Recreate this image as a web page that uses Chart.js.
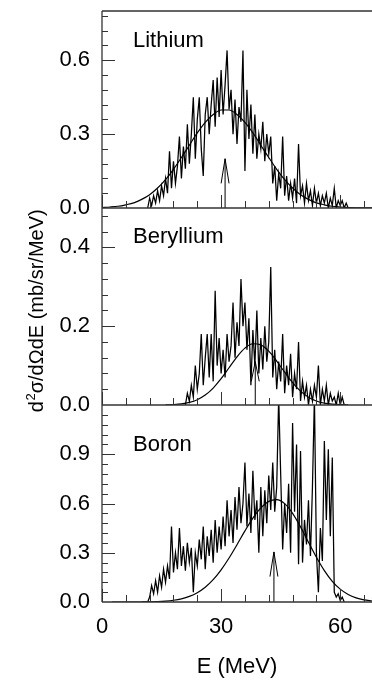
<!DOCTYPE html>
<html>
<head>
<meta charset="utf-8">
<style>
html,body{margin:0;padding:0;background:#fff;}
#wrap{width:372px;height:681px;position:relative;overflow:hidden;}
canvas{display:block;}
</style>
<script src="https://cdn.jsdelivr.net/npm/chart.js@4.4.1/dist/chart.umd.min.js"></script>
</head>
<body>
<div id="wrap"><canvas id="c" width="372" height="681"></canvas></div>
<script>
const FONT = "'Liberation Sans', Arial, Helvetica, sans-serif";

// ---- data ----
const panelNames = ['Lithium', 'Beryllium', 'Boron'];
const energyStep = 0.5;   // MeV per histogram bin

const lithiumStartE = 11.5;
const lithiumCounts = [
  0.00,0.04,0.01,0.05,0.02,0.07,0.03,0.09,0.05,0.12,
  0.06,0.23,0.08,0.19,0.10,0.17,0.29,0.12,0.25,0.16,
  0.34,0.18,0.30,0.45,0.20,0.36,0.45,0.24,0.13,0.38,
  0.45,0.30,0.42,0.52,0.33,0.53,0.37,0.56,0.38,0.50,
  0.64,0.40,0.48,0.30,0.44,0.26,0.41,0.35,0.64,0.15,
  0.48,0.28,0.42,0.22,0.38,0.20,0.30,0.24,0.35,0.19,
  0.30,0.22,0.29,0.10,0.17,0.03,0.14,0.08,0.29,0.05,
  0.13,0.03,0.10,0.04,0.12,0.02,0.26,0.05,0.09,0.02,
  0.10,0.03,0.07,0.01,0.08,0.02,0.06,0.01,0.05,0.02,
  0.06,0.00,0.04,0.01,0.08,0.00,0.03,0.01,0.03,0.00,
  0.02,0.00
];

const berylliumStartE = 21.0;
const berylliumCounts = [
  0.00,0.03,0.01,0.05,0.02,0.10,0.04,0.08,0.18,0.05,
  0.12,0.18,0.07,0.18,0.06,0.29,0.10,0.17,0.08,0.14,
  0.07,0.18,0.11,0.15,0.26,0.12,0.21,0.15,0.32,0.20,
  0.26,0.14,0.22,0.05,0.19,0.10,0.24,0.08,0.17,0.09,
  0.20,0.11,0.16,0.35,0.07,0.14,0.04,0.11,0.06,0.18,
  0.03,0.10,0.05,0.13,0.02,0.08,0.04,0.16,0.01,0.06,
  0.02,0.05,0.00,0.04,0.01,0.05,0.02,0.10,0.00,0.04,
  0.01,0.05,0.00,0.03,0.01,0.02,0.00,0.03,0.00,0.02,
  0.00
];

const boronStartE = 2.5;
const boronCounts = [
  0,0,0,0,0,0,0,0,0,0,0,0,0,0,0,0,0,0,0,
  0.03,0.10,0.05,0.13,0.06,0.16,0.09,0.20,0.12,0.22,
  0.14,0.46,0.18,0.30,0.20,0.45,0.22,0.34,0.19,0.36,
  0.24,0.33,0.06,0.30,0.22,0.38,0.26,0.46,0.20,0.40,
  0.28,0.44,0.24,0.50,0.30,0.46,0.32,0.52,0.34,0.62,
  0.40,0.56,0.36,0.64,0.44,0.70,0.48,0.60,0.85,0.46,
  0.66,0.42,0.80,0.50,0.62,0.30,0.70,0.40,0.68,0.48,
  0.77,0.56,0.85,0.55,0.70,1.25,0.78,0.32,0.60,0.42,
  0.72,0.30,1.09,0.55,0.96,0.23,0.92,0.24,0.50,0.35,
  0.62,0.28,0.70,1.25,0.30,0.06,0.45,0.25,0.98,0.50,
  0.93,0.40,0.88,0.06,0.03,0.05,0.01,0.03,0.00
];

const fitStep = 2;  // MeV between read-off points of the smooth curves
const lithiumFitStartE = 0;
const lithiumFit = [0.002,0.004,0.007,0.013,0.021,0.035,0.054,0.081,0.115,0.157,
  0.205,0.255,0.305,0.348,0.380,0.398,0.398,0.380,0.348,0.305,0.255,0.205,0.157,
  0.115,0.081,0.054,0.035,0.021,0.013,0.007,0.004,0.002,0.001,0.0005,0.0002];
const berylliumFitStartE = 16;
const berylliumFit = [0.0004,0.0012,0.0029,0.0066,0.0135,0.0252,0.043,0.0667,0.0946,
  0.1223,0.1443,0.1554,0.1525,0.1366,0.1116,0.0832,0.0565,0.0351,0.0199,0.0103,
  0.0048,0.0021,0.0008,0.0003];
const boronFitStartE = 10;
const boronFit = [0.0006,0.0013,0.0027,0.0055,0.0106,0.0195,0.0341,0.0569,0.0902,
  0.136,0.196,0.268,0.349,0.433,0.511,0.5735,0.613,0.6236,0.599,0.540,0.4577,0.364,
  0.2724,0.1914,0.1263,0.0782,0.0456,0.025,0.0128,0.0062];

const arrowEnergy   = [31.0, 38.6, 43.3];
const arrowTip      = [0.20, 0.11, 0.305];
const arrowHeadBase = [0.10, 0.06, 0.155];

const yMax = [0.8, 0.5, 1.2];
const yTickLabels = [[0, 0.3, 0.6], [0, 0.2, 0.4], [0, 0.3, 0.6, 0.9]];
const yMinorStep = [0.06, 0.04, 0.06];
const xMax = 68;
const xTickLabels = [0, 30, 60];
const xMinorStep = 6;

// ---- build ----
const yIds = ['yLi', 'yBe', 'yB'];
const counts = [lithiumCounts, berylliumCounts, boronCounts];
const countStarts = [lithiumStartE, berylliumStartE, boronStartE];
const fits = [lithiumFit, berylliumFit, boronFit];
const fitStarts = [lithiumFitStartE, berylliumFitStartE, boronFitStartE];

function toPoints(start, step, arr) {
  return arr.map((v, i) => ({x: +(start + i * step).toFixed(3), y: v}));
}

const datasets = [];
for (let p = 0; p < 3; p++) {
  datasets.push({
    label: panelNames[p] + ' data',
    data: toPoints(countStarts[p], energyStep, counts[p]),
    yAxisID: yIds[p], xAxisID: 'x',
    borderColor: '#000', borderWidth: 1.25, pointRadius: 0, tension: 0, fill: false
  });
  datasets.push({
    label: panelNames[p] + ' fit',
    data: toPoints(fitStarts[p], fitStep, fits[p]),
    yAxisID: yIds[p], xAxisID: 'x',
    borderColor: '#000', borderWidth: 1.2, pointRadius: 0,
    cubicInterpolationMode: 'monotone', fill: false
  });
  const e = arrowEnergy[p];
  datasets.push({
    label: panelNames[p] + ' arrow',
    data: [{x: e, y: 0}, {x: e, y: arrowTip[p]}],
    yAxisID: yIds[p], xAxisID: 'x',
    borderColor: '#000', borderWidth: 1, pointRadius: 0, tension: 0, fill: false
  });
  datasets.push({
    label: panelNames[p] + ' arrow head',
    data: [{x: e - 1, y: arrowHeadBase[p]}, {x: e, y: arrowTip[p]}, {x: e + 1, y: arrowHeadBase[p]}],
    yAxisID: yIds[p], xAxisID: 'x',
    borderColor: '#000', borderWidth: 1, pointRadius: 0, tension: 0, fill: false
  });
}

function yScale(p) {
  return {
    type: 'linear', position: 'left', stack: 'panels', stackWeight: 1,
    min: 0, max: yMax[p],
    grid: {display: false, drawTicks: false},
    border: {display: false},
    ticks: {
      font: {family: FONT, size: 22}, color: '#000', padding: 12,
      callback: v => Number(v).toFixed(1)
    },
    afterBuildTicks: s => { s.ticks = yTickLabels[p].map(v => ({value: v})); },
    afterFit: s => { s.width = 102; s.paddingTop = 0; s.paddingBottom = 0; }
  };
}

const panelLabelOffset = [36, 35, 46];

const framePlugin = {
  id: 'frame',
  afterDraw(chart) {
    const ctx = chart.ctx;
    const area = chart.chartArea;
    const xs = chart.scales.x;
    ctx.save();
    ctx.strokeStyle = '#333';
    ctx.lineWidth = 1.3;
    ctx.beginPath();
    ctx.moveTo(area.left, area.top);
    ctx.lineTo(area.left, area.bottom);
    ctx.stroke();
    for (let p = 0; p < 3; p++) {
      const ys = chart.scales[yIds[p]];
      ctx.lineWidth = 1.3;
      ctx.beginPath();
      if (p === 0) { ctx.moveTo(area.left, ys.top); ctx.lineTo(area.right, ys.top); }
      ctx.moveTo(area.left, ys.bottom); ctx.lineTo(area.right, ys.bottom);
      ctx.stroke();
      ctx.lineWidth = 1;
      ctx.beginPath();
      for (let v = 0; v <= xMax + 1e-9; v += xMinorStep) {
        const px = Math.round(xs.getPixelForValue(v)) + 0.5;
        const major = xTickLabels.includes(v);
        ctx.moveTo(px, ys.bottom);
        ctx.lineTo(px, ys.bottom - (major ? 13 : 7));
      }
      const n = Math.round(yMax[p] / yMinorStep[p]);
      for (let k = 1; k < n + 1; k++) {
        const v = k * yMinorStep[p];
        if (v >= yMax[p] - 1e-9) continue;
        const py = Math.round(ys.getPixelForValue(v)) + 0.5;
        const major = yTickLabels[p].some(t => Math.abs(t - v) < 1e-6);
        ctx.moveTo(area.left, py);
        ctx.lineTo(area.left + (major ? 13 : 6), py);
      }
      ctx.stroke();
      ctx.fillStyle = '#000';
      ctx.font = `22px ${FONT}`;
      ctx.textAlign = 'left';
      ctx.textBaseline = 'alphabetic';
      ctx.fillText(panelNames[p], area.left + 31, ys.top + panelLabelOffset[p]);
    }
    const t1 = 'd', t2 = '2', t3 = 'σ/dΩdE (mb/sr/MeV)';
    ctx.font = `20px ${FONT}`;
    const w1 = ctx.measureText(t1).width, w3 = ctx.measureText(t3).width;
    ctx.font = `13px ${FONT}`;
    const w2 = ctx.measureText(t2).width;
    const total = w1 + w2 + w3;
    ctx.translate(36, 311);
    ctx.rotate(-Math.PI / 2);
    const x0 = -total / 2;
    ctx.fillStyle = '#000';
    ctx.textAlign = 'left';
    ctx.textBaseline = 'alphabetic';
    ctx.font = `20px ${FONT}`;
    ctx.fillText(t1, x0, 7);
    ctx.font = `13px ${FONT}`;
    ctx.fillText(t2, x0 + w1 + 0.5, -1);
    ctx.font = `20px ${FONT}`;
    ctx.fillText(t3, x0 + w1 + w2 + 0.5, 7);
    ctx.restore();
  }
};

new Chart(document.getElementById('c'), {
  type: 'line',
  data: {datasets},
  options: {
    responsive: false,
    animation: false,
    devicePixelRatio: 1,
    layout: {padding: {top: 11, right: 0, left: 0, bottom: 0}},
    plugins: {legend: {display: false}, tooltip: {enabled: false}},
    scales: {
      x: {
        type: 'linear', position: 'bottom', min: 0, max: xMax,
        grid: {display: false, drawTicks: false},
        border: {display: false},
        ticks: {font: {family: FONT, size: 22}, color: '#000', padding: 12, maxRotation: 0},
        afterBuildTicks: s => { s.ticks = xTickLabels.map(v => ({value: v})); },
        afterFit: s => { s.height = 79; s.paddingLeft = 0; s.paddingRight = 0; },
        title: {display: true, text: 'E (MeV)', color: '#000',
                font: {family: FONT, size: 22}, padding: {top: 0, bottom: 1}}
      },
      yB: yScale(2),
      yBe: yScale(1),
      yLi: yScale(0)
    }
  },
  plugins: [framePlugin]
});
</script>
</body>
</html>
